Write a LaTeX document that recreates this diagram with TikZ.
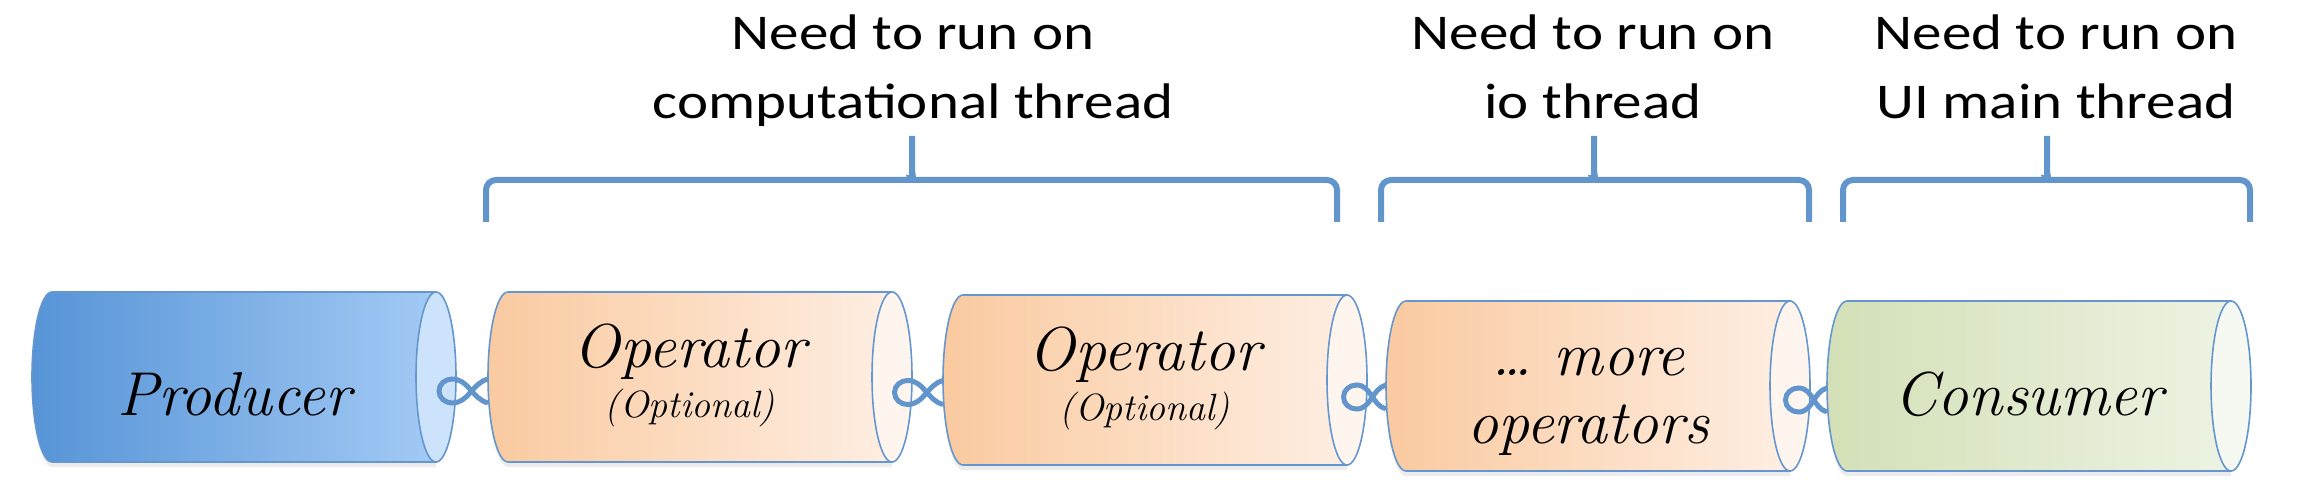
\documentclass[tikz,border=0pt]{standalone}
\usepackage{fontspec}
\usetikzlibrary{positioning,calc,backgrounds,shadows}

\newfontfamily\labelfont[FakeStretch=1.18]{Carlito}
\newcommand\chancery{\itshape}
\newcommand\optfont{\fontsize{38}{44}\selectfont}

\definecolor{prodL}{RGB}{86,148,214}
\definecolor{prodR}{RGB}{163,202,245}
\definecolor{prodEnd}{RGB}{204,227,251}
\definecolor{opL}{RGB}{250,202,160}
\definecolor{opR}{RGB}{254,238,226}
\definecolor{opEnd}{RGB}{254,245,239}
\definecolor{consL}{RGB}{211,224,183}
\definecolor{consR}{RGB}{237,243,227}
\definecolor{consEnd}{RGB}{246,249,242}
\definecolor{cyledge}{RGB}{101,150,208}
\definecolor{bracecol}{RGB}{98,149,204}

% body and open end of a cylinder, drawn behind node #1
\newcommand\cylfill[4]{%
  \shade[left color=#2, right color=#3, draw=cyledge, line width=1.6pt,
         drop shadow={opacity=0.15,shadow xshift=0pt,shadow yshift=-5pt}]
    ($(#1.north west)+(20,0)$) -- (#1.north east) -- (#1.south east)
    -- ($(#1.south west)+(20,0)$)
    arc[start angle=270, end angle=90, x radius=20, y radius=85] -- cycle;
  \filldraw[fill=#4, draw=cyledge, line width=1.6pt]
    (#1.east) ellipse[x radius=20, y radius=85];
}

% looped link from the open end of #1 to the back of #2
\newcommand\chainlink[2]{%
  \coordinate (m) at ($(#1.east)!0.5!(#2.west)+(0,-14)$);
  \draw[linkline] ($(#2.west |- m)+(0,-12)$) to[out=165,in=0] ($(m)+(-10,12)$)
    to[out=180,in=90] ($(m)+(-23,0)$) to[out=-90,in=180] ($(m)+(-10,-12)$)
    to[out=0,in=195] ($(#2.west |- m)+(0,12)$);
}

\begin{document}
\begin{tikzpicture}[
  x=1pt, y=1pt,
  cyl/.style={minimum width=404pt, minimum height=170pt, inner sep=0pt, outer sep=0pt,
              align=center, font=\chancery\fontsize{62}{68}\selectfont},
  lbl/.style={font=\labelfont\fontsize{50}{69}\selectfont, align=center,
              anchor=south, inner sep=0pt},
  linkline/.style={draw=bracecol, line width=5pt},
  bracket/.style={draw=bracecol, line width=6pt, rounded corners=10pt},
]
\useasboundingbox (0,0) rectangle (2302,-494);

%% -- cylinders ---------------------------------------------------------------
\node[cyl, text height=78pt, text depth=2pt] (prod) at (234,-377) {Producer};
\node[cyl, right=52pt of prod, text height=82pt, text depth=2pt] (op1)
  {Operator\\[-18pt]{\optfont (Optional)}};
\node[cyl, right=51pt of op1, yshift=-3pt, text height=82pt, text depth=2pt] (op2)
  {Operator\\[-18pt]{\optfont (Optional)}};
\node[cyl, right=39pt of op2, yshift=-6pt, text height=116pt, text depth=2pt] (op3)
  {\dots\ more\\operators};
\node[cyl, right=37pt of op3, text height=60pt, text depth=2pt] (cons) {Consumer};

\begin{scope}[on background layer]
  \cylfill{prod}{prodL}{prodR}{prodEnd}
  \cylfill{op1}{opL}{opR}{opEnd}
  \cylfill{op2}{opL}{opR}{opEnd}
  \cylfill{op3}{opL}{opR}{opEnd}
  \cylfill{cons}{consL}{consR}{consEnd}
\end{scope}

%% -- links -------------------------------------------------------------------
\chainlink{prod}{op1}
\chainlink{op1}{op2}
\chainlink{op2}{op3}
\chainlink{op3}{cons}

%% -- thread labels and brackets ----------------------------------------------
\node[lbl] (comp) at (913,-127) {Need to run on\\computational thread};
\node[lbl] (io)   at (1593,-127) {Need to run on\\io thread\vphantom{p}};
\node[lbl] (ui)   at (2056,-127) {Need to run on\\UI main thread\vphantom{p}};

\foreach \xa/\xm/\xb in {486/912/1337, 1381/1594/1809, 1843/2047/2250} {
  \draw[bracket] (\xa,-222) -- (\xa,-180) -- (\xm-8,-180) to[out=0,in=-90] (\xm,-171) -- (\xm,-136);
  \draw[bracket] (\xm,-171) to[out=-90,in=180] (\xm+8,-180) -- (\xb,-180) -- (\xb,-222);
}
\end{tikzpicture}
\end{document}
